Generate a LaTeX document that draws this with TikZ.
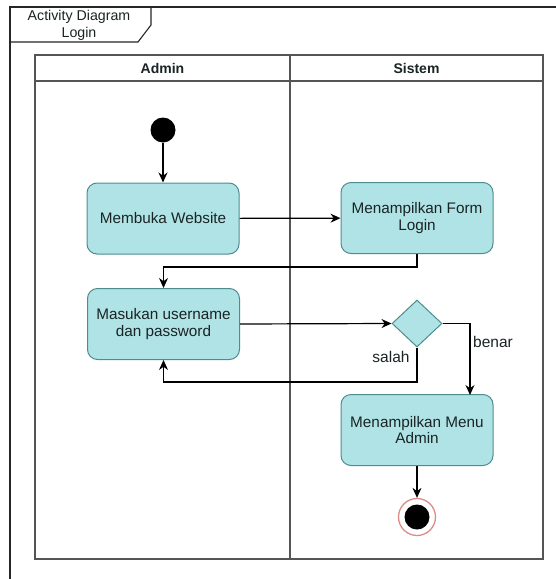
\documentclass[tikz,border=0pt]{standalone}
\usepackage{fontspec}
\setmainfont{Liberation Sans}
\usetikzlibrary{arrows.meta,shapes.geometric}
\definecolor{actfill}{HTML}{B0E3E6}
\definecolor{actdraw}{HTML}{4E8C8E}
\definecolor{txt}{HTML}{1A2424}
\definecolor{lane}{HTML}{555555}
\definecolor{ring}{HTML}{E08A88}
\tikzset{
  act/.style={draw=actdraw, fill=actfill, rounded corners=10pt, line width=1pt,
    minimum width=152pt, minimum height=71pt, align=center, text=txt,
    font=\fontsize{15.3}{16.5}\selectfont, inner sep=0pt},
  dec/.style={draw=actdraw, fill=actfill, diamond, line width=1pt, minimum width=50pt,
    minimum height=47pt, inner sep=0pt, aspect=1.06},
  flow/.style={draw=black, line width=1.2pt, -{Stealth[length=10pt,width=9pt]}},
  lbl/.style={font=\fontsize{15.5}{16}\selectfont, text=txt, inner sep=0pt},
}
\begin{document}
\begin{tikzpicture}[x=1pt,y=-1pt]
\clip (0,0) rectangle (556,579);
\fill[white] (0,0) rectangle (556,579);
% outer frame
\draw[line width=1.3pt, color=black!85] (10,7) rectangle (620,640);
\draw[line width=1.1pt, color=black!85] (10,42) -- (138,42) -- (151,25) -- (151,7);
\node[lbl, align=center, font=\fontsize{14.2}{17}\selectfont] (title) at (79,25) {Activity Diagram\\Login};
% swimlanes
\draw[line width=1.5pt, color=lane] (35,55) rectangle (543,559);
\draw[line width=1.5pt, color=lane] (35,81) -- (543,81);
\draw[line width=1.5pt, color=lane] (290,55) -- (290,559);
\node[lbl, font=\fontsize{14}{16}\bfseries] (hadmin) at (162.5,68) {Admin};
\node[lbl, font=\fontsize{14}{16}\bfseries] (hsistem) at (416.5,68) {Sistem};
% nodes
\node[circle, fill=black, minimum size=25pt, inner sep=0pt] (start) at (163,130) {};
\node[act] (buka) at (163,218.5) {Membuka Website};
\node[act] (form) at (417,218) {Menampilkan Form\\Login};
\node[act] (masuk) at (163.5,324) {Masukan username\\dan password};
\node[dec] (dec) at (417,323.5) {};
\node[act] (menu) at (417,430) {Menampilkan Menu\\Admin};
\node[circle, draw=ring, fill=white, line width=1.3pt, minimum size=37pt, inner sep=0pt] (end) at (417,517) {};
\node[circle, fill=black, minimum size=25pt, inner sep=0pt] (endin) at (end.center) {};
% flows
\draw[flow] (start) -- (buka);
\draw[flow] (buka) -- (form);
\draw[flow] (form.south) -- ++(0,13) -| (masuk.north);
\draw[flow] (masuk.east) -- (dec.west);
\draw[flow] (dec.east) -- (470,323.5) -- (470,395);
\draw[flow] (dec.south) -- (417,382) -| (masuk.south);
\draw[flow] (menu) -- (end);
\node[lbl] (benar) at (493,342) {benar};
\node[lbl] (salah) at (391,357) {salah};
\end{tikzpicture}
\end{document}
